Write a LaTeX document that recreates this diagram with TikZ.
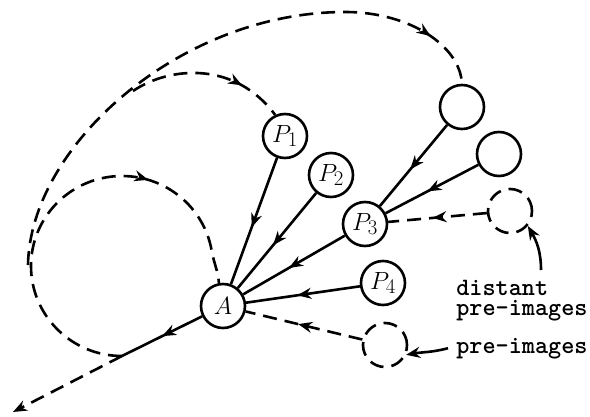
\documentclass[tikz,border=0pt]{standalone}
\usetikzlibrary{arrows.meta,decorations.markings}
\begin{document}
\begin{tikzpicture}[x=1pt,y=1pt,line width=2.6pt,
 pt/.style={circle,draw,solid,minimum size=44pt,inner sep=0pt,font=\Huge},
 ghost/.style={pt,dash pattern=on 14pt off 8pt},
 dsh/.style={dash pattern=on 14pt off 8pt},
 tip/.style={-{Stealth[length=14pt,width=11pt]}},
 mid/.style={postaction={decorate},decoration={markings,mark=at position #1 with {\arrow[solid]{Stealth[length=14pt,width=11pt]}}}},
 mid/.default=0.55,
 lbl/.style={inner sep=0pt,font=\fontsize{25}{20}\selectfont\ttfamily\bfseries,align=left}]
 \useasboundingbox (0,0) rectangle (590,416);
 % points
 \node[pt] (A) at (223,110) {$A$};
 \node[pt] (P1) at (285,280) {$P_1$};
 \node[pt] (P2) at (331,241) {$P_2$};
 \node[pt] (P3) at (365,192) {$P_3$};
 \node[pt] (P4) at (383,133) {$P_4$};
 \node[pt] (C1) at (462,309) {};
 \node[pt] (C2) at (499,262) {};
 \node[ghost] (D1) at (510,205) {};
 \node[ghost] (D2) at (385,71) {};
 \node[lbl,anchor=north west] (dist) at (455,137) {distant\\pre-images};
 \node[lbl,anchor=base west] (pre) at (455,63) {pre-images};
 \coordinate (J) at (122,60);
 \coordinate (E) at (13,4);
 \coordinate (L) at (28,151);
 \coordinate (T) at (345,404);
 \coordinate (B) at (133,325);
 \coordinate (dtail) at (541,146);
 % branches into A
 \draw[mid] (P1) -- (A);
 \draw[mid] (P2) -- (A);
 \draw[mid] (P3) -- (A);
 \draw[mid] (P4) -- (A);
 \draw[mid] (C1) -- (P3);
 \draw[mid] (C2) -- (P3);
 \draw[dsh,mid] (D1) -- (P3);
 \draw[dsh,mid] (D2) -- (A);
 % unstable side
 \draw[mid=0.5] (A) -- (J);
 \draw[dsh,tip] (J) -- (E);
 \draw[dsh,mid=0.7] (J) arc[start angle=-90,end angle=-350,x radius=91,y radius=90] to[out=-80,in=95] (A.100);
 \draw[dsh,mid=0.9] (L) .. controls (30,270) and (180,404) .. (T) .. controls (410,404) and (460,370) .. (C1.north);
 \draw[dsh,mid=0.72] (B) .. controls (170,350) and (235,355) .. (P1.115);
 % labels
 \draw[tip] (dtail) to[out=90,in=-60] (D1.-40);
 \draw[tip] ([xshift=-7pt]pre.west) to[out=195,in=10] (D2.-25);
\end{tikzpicture}
\end{document}
